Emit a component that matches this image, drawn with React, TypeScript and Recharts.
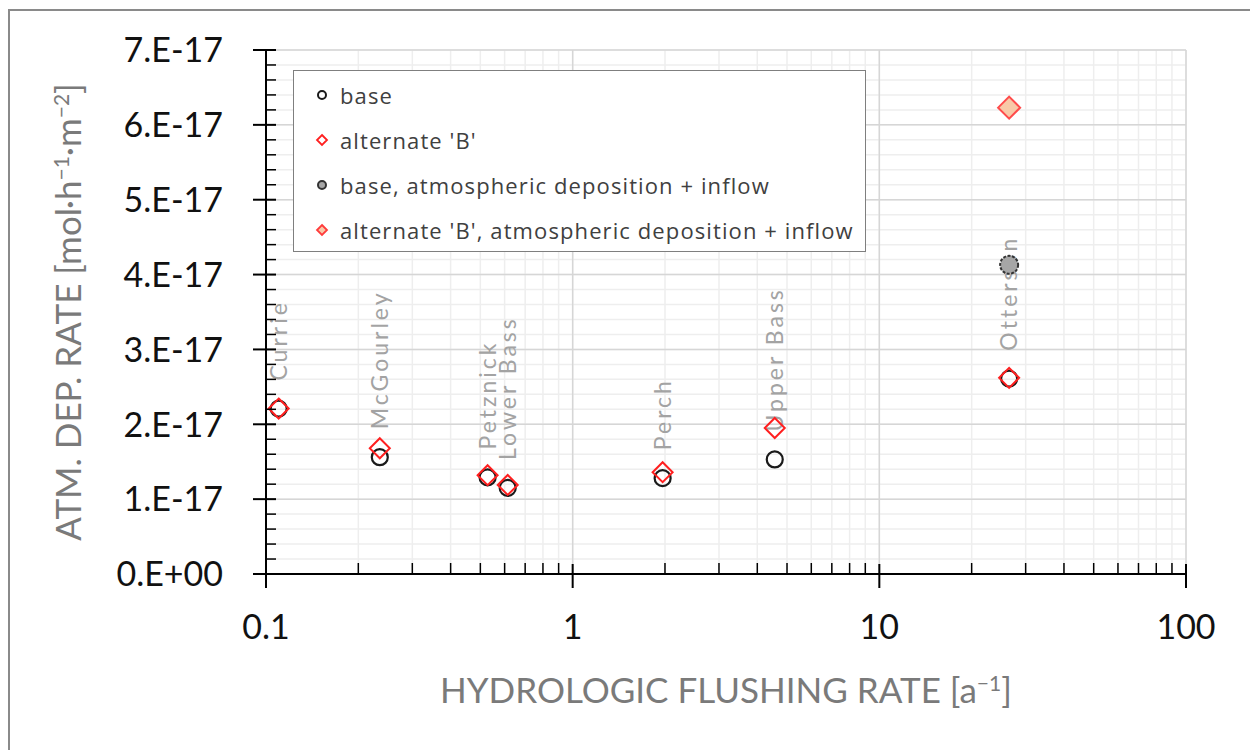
import { ScatterChart, Scatter, XAxis, YAxis, CartesianGrid, Legend, ReferenceLine } from 'recharts';

// lakes and their flushing rates [1/a]
const lakes = ['Currie', 'McGourley', 'Petznick', 'Lower Bass', 'Perch', 'Upper Bass', 'Otterson'];
const flushingRate = [0.11, 0.235, 0.528, 0.614, 1.965, 4.56, 26.5];
const baseRate = [2.21e-17, 1.56e-17, 1.29e-17, 1.15e-17, 1.28e-17, 1.53e-17, 2.61e-17];
const altRate = [2.21e-17, 1.68e-17, 1.32e-17, 1.19e-17, 1.36e-17, 1.95e-17, 2.62e-17];

// only Otterson has an inflow contribution
const inflowLakes = ['Otterson'];
const inflowFlushing = [26.5];
const baseInflowRate = [4.13e-17];
const altInflowRate = [6.23e-17];

const xMajorTicks = [0.1, 1, 10, 100];
const xMinorTicks = [0.2, 0.3, 0.4, 0.5, 0.6, 0.7, 0.8, 0.9, 2, 3, 4, 5, 6, 7, 8, 9, 20, 30, 40, 50, 60, 70, 80, 90];
const yMajorTicks = [0, 1e-17, 2e-17, 3e-17, 4e-17, 5e-17, 6e-17, 7e-17];
const yMinorSteps = [0.2, 0.4, 0.6, 0.8];

const seriesNames = ['base', "alternate 'B'", 'base, atmospheric deposition + inflow', "alternate 'B', atmospheric deposition + inflow"];

const toPoints = (xs: number[], ys: number[], names: string[]) =>
  xs.map((x, i) => ({ x, y: ys[i], name: names[i] }));

const baseData = toPoints(flushingRate, baseRate, lakes);
const altData = toPoints(flushingRate, altRate, lakes);
const baseInflowData = toPoints(inflowFlushing, baseInflowRate, inflowLakes);
const altInflowData = toPoints(inflowFlushing, altInflowRate, inflowLakes);

const xTicks = [...xMajorTicks, ...xMinorTicks].sort((a, b) => a - b);
const yTicks = yMajorTicks.flatMap((m, i) =>
  i < yMajorTicks.length - 1 ? [m, ...yMinorSteps.map(s => m + s * 1e-17)] : [m]
);

const FONT = 'Lato, sans-serif';

const isYMajor = (v: number) => Math.abs(v / 1e-17 - Math.round(v / 1e-17)) < 1e-6;
const formatY = (v: number) => {
  const n = Math.round(v / 1e-17);
  return n === 0 ? '0.E+00' : `${n}.E-17`;
};

function XTick(props: any) {
  const { x, y, payload } = props;
  const major = xMajorTicks.includes(payload.value);
  if (!major) {
    return <line x1={x} x2={x} y1={y - 11} y2={y} stroke="#000" strokeWidth={1.5} />;
  }
  return (
    <g>
      <line x1={x} x2={x} y1={y - 10} y2={y + 14} stroke="#000" strokeWidth={2} />
      <text x={x} y={y + 53} dy="0.36em" textAnchor="middle" fontFamily={FONT} fontSize={34} fill="#111">
        {payload.value}
      </text>
    </g>
  );
}

function YTick(props: any) {
  const { x, y, payload } = props;
  if (!isYMajor(payload.value)) {
    return <line x1={x} x2={x + 10} y1={y} y2={y} stroke="#000" strokeWidth={1.5} />;
  }
  return (
    <g>
      <line x1={x - 13} x2={x + 10} y1={y} y2={y} stroke="#000" strokeWidth={2} />
      <text x={x - 43} y={y} dy="0.36em" textAnchor="end" fontFamily={FONT} fontSize={34} fill="#111">
        {formatY(payload.value)}
      </text>
    </g>
  );
}

const Circle = ({ cx, cy }: any) => (
  <circle cx={cx} cy={cy} r={8} fill="none" stroke="#1a1a1a" strokeWidth={2.2} />
);
const Diamond = ({ cx, cy }: any) => (
  <path d={`M${cx},${cy - 10}L${cx + 10},${cy}L${cx},${cy + 10}L${cx - 10},${cy}Z`} fill="none" stroke="#ff1f1f" strokeWidth={2} />
);
const FilledCircle = ({ cx, cy }: any) => (
  <circle cx={cx} cy={cy} r={9} fill="#a6a6a6" stroke="#333" strokeWidth={2} strokeDasharray="3 1.5" />
);
const FilledDiamond = ({ cx, cy }: any) => (
  <path d={`M${cx},${cy - 11}L${cx + 11},${cy}L${cx},${cy + 11}L${cx - 11},${cy}Z`} fill="#f8c9a8" stroke="#ff4b4b" strokeWidth={2} />
);

// rotated lake name above each base point
const LakeLabel = ({ cx, cy, payload }: any) => {
  const ty = cy - 28;
  return (
    <text
      x={cx}
      y={ty}
      dy="0.36em"
      transform={`rotate(-90, ${cx}, ${ty})`}
      textAnchor="start"
      fontFamily={FONT}
      fontSize={23}
      letterSpacing={3}
      fill="#a3a3a3"
    >
      {payload.name}
    </text>
  );
};

const legendMarkers: Record<string, (cx: number, cy: number) => JSX.Element> = {
  [seriesNames[0]]: (cx, cy) => <circle cx={cx} cy={cy} r={4} fill="none" stroke="#1a1a1a" strokeWidth={2} />,
  [seriesNames[1]]: (cx, cy) => <path d={`M${cx},${cy - 5}L${cx + 5},${cy}L${cx},${cy + 5}L${cx - 5},${cy}Z`} fill="none" stroke="#ff1f1f" strokeWidth={1.8} />,
  [seriesNames[2]]: (cx, cy) => <circle cx={cx} cy={cy} r={4} fill="#a6a6a6" stroke="#333" strokeWidth={2} />,
  [seriesNames[3]]: (cx, cy) => <path d={`M${cx},${cy - 5}L${cx + 5},${cy}L${cx},${cy + 5}L${cx - 5},${cy}Z`} fill="#f8c9a8" stroke="#ff3b3b" strokeWidth={1.8} />,
};

function LegendBox({ payload }: any) {
  const items = (payload || [])
    .filter((p: any) => legendMarkers[p.value])
    .sort((a: any, b: any) => seriesNames.indexOf(a.value) - seriesNames.indexOf(b.value));
  return (
    <div
      style={{
        boxSizing: 'border-box',
        width: 573,
        height: 182,
        border: '1.5px solid #7f7f7f',
        background: '#fff',
        paddingTop: 1,
      }}
    >
      {items.map((item: any) => (
        <div key={item.value} style={{ height: 45, display: 'flex', alignItems: 'center' }}>
          <svg width={46} height={20} style={{ flex: 'none' }}>
            {legendMarkers[item.value](28, 10)}
          </svg>
          <span style={{ fontFamily: '"Open Sans", sans-serif', fontSize: 22, letterSpacing: 1.1, color: '#404040', whiteSpace: 'nowrap' }}>
            {item.value}
          </span>
        </div>
      ))}
    </div>
  );
}

export default function App() {
  return (
    <div style={{ position: 'absolute', left: 0, top: 0, width: 1250, height: 750, background: '#fff', overflow: 'hidden' }}>
      <div
        style={{
          position: 'absolute',
          left: 8,
          top: 9,
          width: 1300,
          height: 800,
          border: '2px solid #8a8a8a',
          boxSizing: 'border-box',
        }}
      />
      <ScatterChart width={1250} height={750} margin={{ top: 50, right: 64, bottom: 0, left: 0 }} style={{ position: 'absolute', left: 0, top: 0 }}>
        <CartesianGrid stroke="#eeeeee" strokeWidth={1.5} />
        {xMajorTicks.map(v => (
          <ReferenceLine key={`xm${v}`} x={v} stroke="#d6d6d6" strokeWidth={1.5} />
        ))}
        {yMajorTicks.map(v => (
          <ReferenceLine key={`ym${v}`} y={v} stroke="#d6d6d6" strokeWidth={1.5} />
        ))}
        <XAxis
          dataKey="x"
          type="number"
          scale="log"
          domain={[0.1, 100]}
          allowDataOverflow
          ticks={xTicks}
          interval={0}
          height={176}
          tickSize={0}
          tickMargin={0}
          tickLine={false}
          axisLine={{ stroke: '#000', strokeWidth: 2 }}
          tick={<XTick />}
          label={{
            content: ({ viewBox }: any) => (
              <text
                x={viewBox.x + viewBox.width / 2}
                y={viewBox.y + 116}
                dy="0.36em"
                textAnchor="middle"
                fontFamily={FONT}
                fontSize={35}
                fill="#7a7a7a"
              >
                HYDROLOGIC FLUSHING RATE [a
                <tspan dy={-12} fontSize={21}>−1</tspan>
                <tspan dy={12}>]</tspan>
              </text>
            ),
          }}
        />
        <YAxis
          dataKey="y"
          type="number"
          domain={[0, 7e-17]}
          allowDataOverflow
          ticks={yTicks}
          interval={0}
          width={266}
          tickSize={0}
          tickMargin={0}
          tickLine={false}
          axisLine={{ stroke: '#000', strokeWidth: 2 }}
          tick={<YTick />}
          label={{
            content: ({ viewBox }: any) => {
              const cx = viewBox.x + 68;
              const cy = viewBox.y + viewBox.height / 2;
              return (
                <text
                  x={cx}
                  y={cy}
                  dy="0.36em"
                  textAnchor="middle"
                  transform={`rotate(-90, ${cx}, ${cy})`}
                  fontFamily={FONT}
                  fontSize={35}
                  fill="#7a7a7a"
                >
                  ATM. DEP. RATE [mol·h
                  <tspan dy={-12} fontSize={21}>−1</tspan>
                  <tspan dy={12}>·m</tspan>
                  <tspan dy={-12} fontSize={21}>−2</tspan>
                  <tspan dy={12}>]</tspan>
                </text>
              );
            },
          }}
        />
        <Legend
          layout="vertical"
          align="center"
          verticalAlign="middle"
          content={<LegendBox />}
          wrapperStyle={{ left: 293, top: 70, width: 573, height: 182 }}
        />
        <Scatter name="labels" data={baseData} shape={LakeLabel} legendType="none" isAnimationActive={false} />
        <Scatter name={seriesNames[0]} data={baseData} shape={Circle} isAnimationActive={false} />
        <Scatter name={seriesNames[1]} data={altData} shape={Diamond} isAnimationActive={false} />
        <Scatter name={seriesNames[2]} data={baseInflowData} shape={FilledCircle} isAnimationActive={false} />
        <Scatter name={seriesNames[3]} data={altInflowData} shape={FilledDiamond} isAnimationActive={false} />
      </ScatterChart>
    </div>
  );
}
